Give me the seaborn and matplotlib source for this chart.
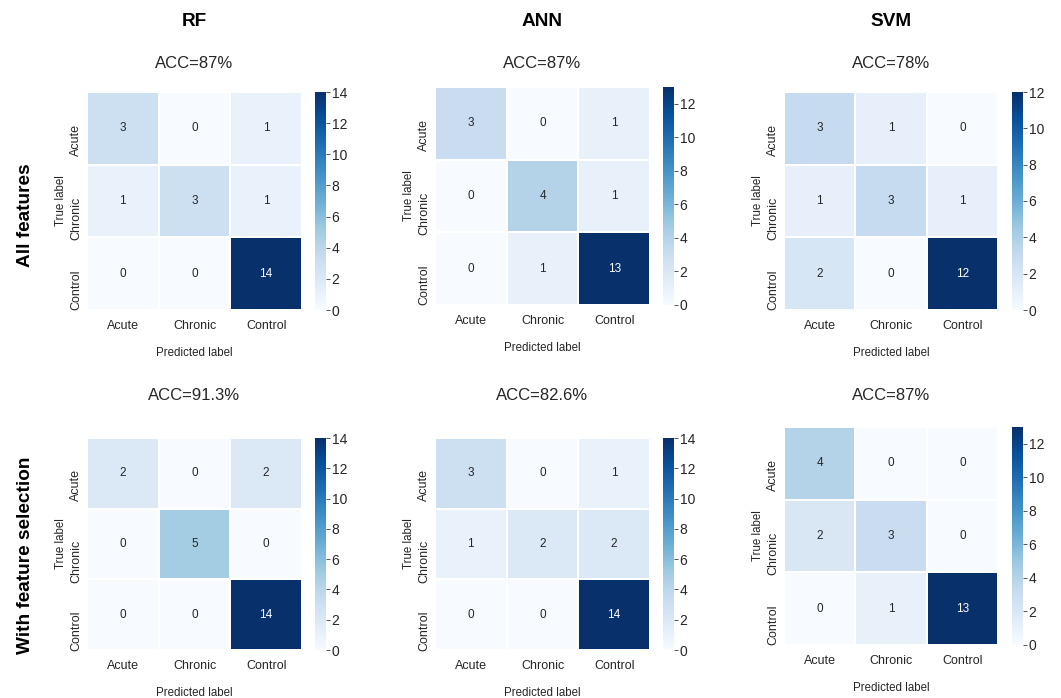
import numpy as np
import matplotlib
matplotlib.use("Agg")
import matplotlib.pyplot as plt
import seaborn as sns

# class names and model names
classes = ["Acute", "Chronic", "Control"]
models = ["RF", "ANN", "SVM"]
row_titles = ["All features", "With feature selection"]

# confusion matrices, all features
rf_all = [[3, 0, 1], [1, 3, 1], [0, 0, 14]]
ann_all = [[3, 0, 1], [0, 4, 1], [0, 1, 13]]
svm_all = [[3, 1, 0], [1, 3, 1], [2, 0, 12]]

# confusion matrices, with feature selection
rf_fs = [[2, 0, 2], [0, 5, 0], [0, 0, 14]]
ann_fs = [[3, 0, 1], [1, 2, 2], [0, 0, 14]]
svm_fs = [[4, 0, 0], [2, 3, 0], [0, 1, 13]]

acc_all = ["ACC=87%", "ACC=87%", "ACC=78%"]
acc_fs = ["ACC=91.3%", "ACC=82.6%", "ACC=87%"]

sns.set_style("white")
plt.rcParams["font.family"] = ["Liberation Sans", "DejaVu Sans"]

W, H = 1061, 698
fig = plt.figure(figsize=(W / 100, H / 100), dpi=100)
txt = "#262626"


def px_axes(x0, y0, x1, y1):
    # pixel box (top-left origin) -> figure axes
    return fig.add_axes([x0 / W, 1 - y1 / H, (x1 - x0) / W, (y1 - y0) / H])


# heatmap boxes in pixels: (x0, y0, x1, y1), colorbar x range
boxes = [
    [(87, 92, 302, 310), (435, 87, 650, 305), (784, 92, 998, 310)],
    [(87, 438, 302, 650), (435, 438, 650, 650), (784, 427, 998, 645)],
]
cbar_x = [(315, 326), (663, 674), (1012, 1023)]
title_y = [63, 395]

mats = [[rf_all, ann_all, svm_all], [rf_fs, ann_fs, svm_fs]]
accs = [acc_all, acc_fs]

for r in range(2):
    for c in range(3):
        x0, y0, x1, y1 = boxes[r][c]
        ax = px_axes(x0, y0, x1, y1)
        cax = px_axes(cbar_x[c][0], y0, cbar_x[c][1], y1)
        m = np.array(mats[r][c])
        sns.heatmap(m, ax=ax, cbar_ax=cax, cmap="Blues", vmin=0, vmax=m.max(),
                    annot=True, fmt="d", annot_kws={"fontsize": 8.5},
                    xticklabels=classes, yticklabels=classes,
                    linewidths=0.25, linecolor="white")
        fig.text((x0 + x1) / 2 / W, 1 - title_y[r] / H, accs[r][c],
                 ha="center", va="center", fontsize=12, color=txt)
        ax.set_xlabel("Predicted label", fontsize=8.3, labelpad=11, color=txt)
        ax.set_ylabel("True label", fontsize=8.3, labelpad=2, color=txt)
        ax.tick_params(axis="both", length=0, labelsize=9, labelcolor=txt)
        ax.tick_params(axis="x", pad=7)
        for t in ax.get_yticklabels():
            t.set_rotation(90)
            t.set_va("center_baseline")
        cax.tick_params(length=3, width=0.7, color="#555555", labelsize=10,
                        labelcolor=txt, pad=1)
        cax.set_yticks(np.arange(0, m.max() + 1, 2))

# column headers and row titles
for c, name in enumerate(models):
    x0, _, x1, _ = boxes[0][c]
    fig.text((x0 + x1) / 2 / W, 1 - 22 / H, name, ha="center", va="center",
             fontsize=13.7, fontweight="bold", color="black")
fig.text(26 / W, 1 - 215 / H, row_titles[0], rotation=90, ha="center",
         va="center", fontsize=13.7, fontweight="bold", color="black")
fig.text(26 / W, 1 - 555 / H, row_titles[1], rotation=90, ha="center",
         va="center", fontsize=13.7, fontweight="bold", color="black")

fig.savefig("out.png", dpi=100)
